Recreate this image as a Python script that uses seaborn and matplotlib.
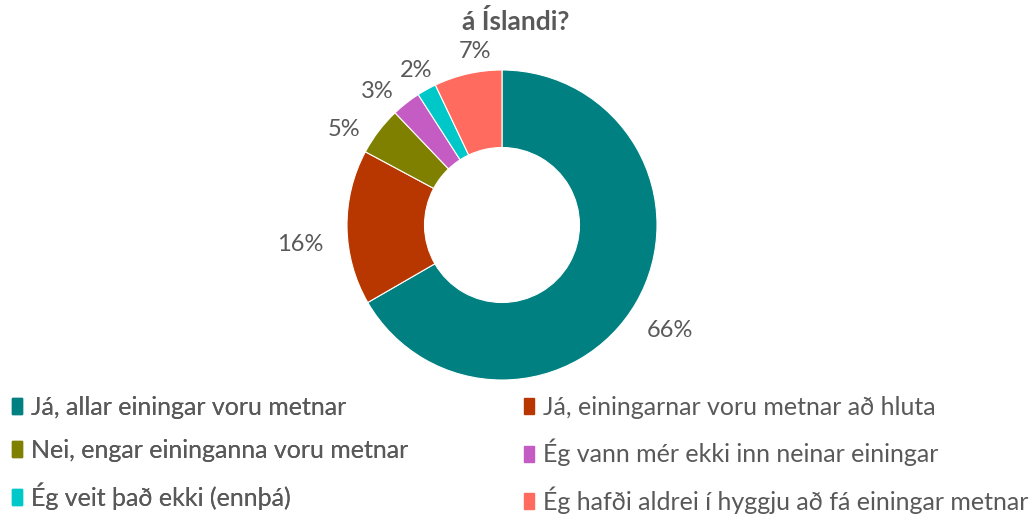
import matplotlib
matplotlib.use('Agg')
import matplotlib.pyplot as plt
import matplotlib.patches as mpatches
import numpy as np
import seaborn as sns

sns.set_style('white')
plt.rcParams['font.family'] = ['Lato', 'DejaVu Sans']

# data
answers = ['Já, allar einingar voru metnar',
           'Já, einingarnar voru metnar að hluta',
           'Nei, engar eininganna voru metnar',
           'Ég vann mér ekki inn neinar einingar',
           'Ég veit það ekki (ennþá)',
           'Ég hafði aldrei í hyggju að fá einingar metnar']
shares = [66, 16, 5, 3, 2, 7]
colors = ['#008080', '#B83700', '#808000', '#C45CC4', '#00C8C8', '#FF6B5E']

grey = '#595959'

fig = plt.figure(figsize=(10.32, 5.14), dpi=100)
W, H = 1032, 514
cx, cy, r = 502, 225, 155
ax = fig.add_axes([(cx - r) / W, 1 - (cy + r) / H, 2 * r / W, 2 * r / H])

wedges, _ = ax.pie(shares, colors=colors, startangle=90, counterclock=False,
                   radius=1, wedgeprops=dict(width=0.5, edgecolor='white', linewidth=0.8))
ax.set_xlim(-1, 1)
ax.set_ylim(-1, 1)
ax.set_aspect('equal')
ax.axis('off')

# label placement (distance from centre in radii, angle tweak in degrees)
label_dist = [1.28, 1.31, 1.19, 1.18, 1.14, 1.13]
angle_shift = [-2, 4.5, 6, 5, 0, -4]
for w, s, d, sh in zip(wedges, shares, label_dist, angle_shift):
    ang = np.deg2rad((w.theta1 + w.theta2) / 2 + sh)
    ax.text(d * np.cos(ang), d * np.sin(ang), f'{s}%', ha='center', va='center',
            fontsize=17, color=grey, clip_on=False)

fig.text(516 / W, 1 - 22 / H, 'á Íslandi?', ha='center', va='center', fontsize=19,
         fontweight='bold', color=grey)

handles = [mpatches.Patch(color=c, label=a) for c, a in zip(colors, answers)]
leg_kw = dict(loc='upper left', frameon=False, fontsize=18, labelcolor=grey,
              handlelength=0.4, handleheight=0.6, handletextpad=0.35,
              labelspacing=0.8, borderaxespad=0, borderpad=0)
leg1 = fig.legend(handles=handles[0::2], bbox_to_anchor=(12 / W, 1 - 396 / H), **leg_kw)
fig.add_artist(leg1)
fig.legend(handles=handles[1::2], bbox_to_anchor=(524 / W, 1 - 396 / H), **leg_kw)

fig.savefig('out.png', dpi=100)
